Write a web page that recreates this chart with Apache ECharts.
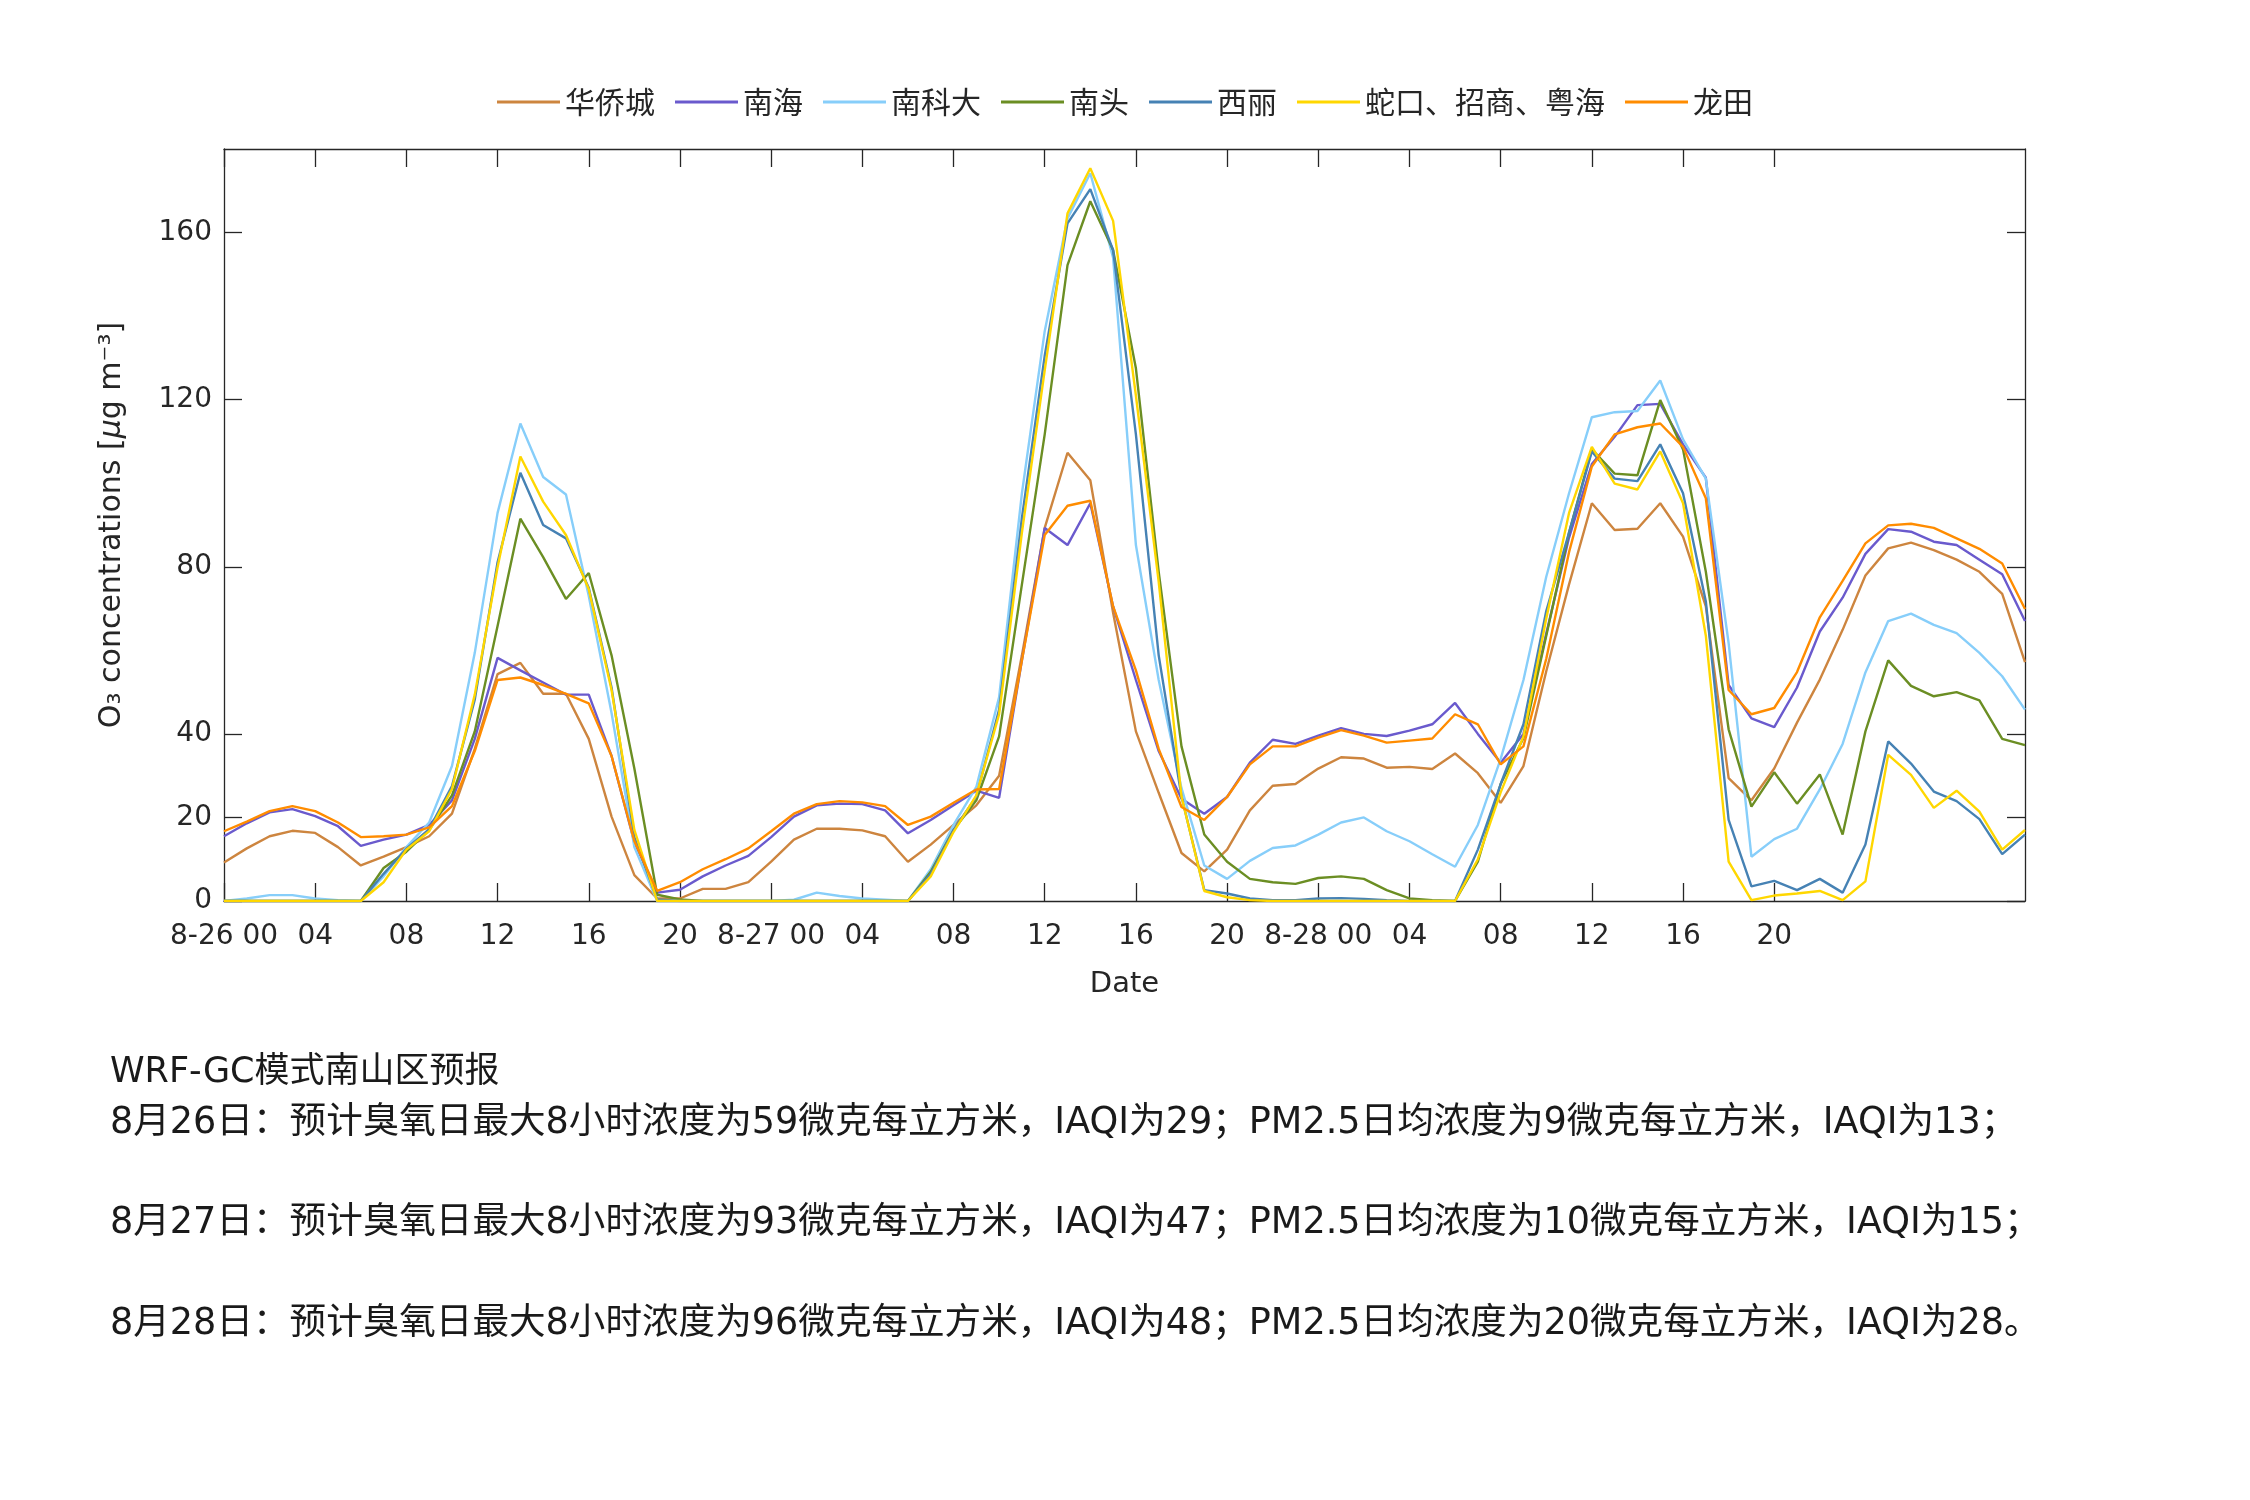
<!DOCTYPE html>
<html>
<head>
<meta charset="utf-8">
<script src="https://cdn.jsdelivr.net/npm/echarts@6/dist/echarts.min.js"></script>
<style>
html,body{margin:0;padding:0;background:#fff;}
#chart{width:2250px;height:1500px;}
</style>
</head>
<body>
<div id="chart"></div>
<script>
// ---- data (hourly O3, hour 0 = 8-26 00) ----
const seriesNames = ['华侨城','南海','南科大','南头','西丽','蛇口、招商、粤海','龙田'];
const seriesColors = ['#CD853F','#6A5ACD','#87CEFA','#6B8E23','#4682B4','#FFD700','#FF8C00'];

const huaqiaocheng = [9.2,12.6,15.5,16.8,16.3,12.9,8.5,10.6,12.9,15.5,20.9,36.4,54.3,57.0,49.6,49.6,38.8,20.2,6.2,0.6,
  0.6,2.9,2.9,4.5,9.4,14.7,17.3,17.3,16.9,15.5,9.4,13.5,18.2,22.9,30.0,58.8,89.3,107.3,100.7,69.0,
  40.6,25.9,11.5,7.1,12.3,21.7,27.6,28.0,31.7,34.4,34.1,31.9,32.1,31.6,35.3,30.6,23.5,32.3,55.0,75.8,
  95.2,88.8,89.1,95.2,87.2,70.5,29.4,24.1,31.7,42.7,53.0,64.9,77.9,84.4,85.8,84.0,81.7,78.8,73.5,57.2];
const nanhai = [15.5,18.6,21.2,22.0,20.3,17.9,13.2,14.7,15.9,18.2,24.1,38.8,58.2,55.2,52.3,49.4,49.4,34.7,14.1,2.0,
  2.7,5.9,8.5,10.8,15.3,20.2,22.9,23.3,23.2,21.7,16.2,19.4,22.9,26.4,24.7,57.6,89.3,85.2,95.2,70.5,
  52.9,35.9,24.5,20.9,24.9,33.1,38.6,37.6,39.6,41.4,40.0,39.5,40.8,42.3,47.4,40.0,33.1,40.0,64.0,87.0,
  104.6,111.1,118.7,119.0,109.3,101.3,51.7,43.7,41.6,51.1,64.5,72.6,83.1,89.0,88.4,86.0,85.2,81.7,78.2,67.0];
const nankeda = [0,0.6,1.4,1.4,0.6,0.2,0,5.9,12.9,18.8,32.3,59.4,92.9,114.3,101.5,97.3,73.0,45.0,12.9,0,
  0,0,0,0,0,0.3,2.0,1.2,0.6,0.3,0,7.6,18.2,27.3,48.8,97.6,136.4,163.4,174.2,154.0,
  85.2,52.9,27.0,8.5,5.3,9.6,12.7,13.3,15.9,18.8,20.0,16.7,14.3,11.2,8.2,18.2,34.0,52.9,77.6,97.6,
  115.8,117.0,117.3,124.6,110.5,101.1,61.7,10.6,14.8,17.3,26.7,37.6,54.7,67.0,68.8,66.1,64.1,59.4,53.8,45.8];
const nantou = [0,0,0,0,0,0,0,7.9,11.8,17.0,25.3,40.6,65.8,91.5,82.3,72.3,78.5,58.8,31.7,1.5,
  0.4,0,0,0,0,0,0,0,0,0,0,7.0,17.0,24.1,39.4,75.8,111.7,152.2,167.5,155.8,
  127.5,78.8,37.0,15.9,9.4,5.3,4.5,4.1,5.5,5.9,5.3,2.6,0.6,0.2,0,9.4,28.0,39.0,63.5,88.2,
  108.1,102.3,101.9,119.9,108.1,78.8,41.1,22.6,30.8,23.3,30.3,15.9,40.6,57.6,51.5,49.0,50.0,48.0,38.8,37.3];
const xili = [0,0,0,0,0,0,0,6.5,12.5,17.2,27.5,48.2,81.1,102.5,90.0,86.8,75.0,51.1,15.3,0.4,
  0,0,0,0,0,0,0,0,0,0,0,6.5,17.0,25.0,45.8,91.7,130.5,162.2,170.4,155.8,
  111.7,58.8,25.0,2.6,1.8,0.6,0.2,0.2,0.6,0.7,0.5,0.2,0,0,0,12.3,28.0,42.3,69.4,88.2,
  107.6,101.1,100.5,109.3,97.6,71.7,19.4,3.5,4.8,2.6,5.3,2.0,13.5,38.2,32.9,26.2,23.9,19.6,11.2,15.9];
const shekou = [0,0,0,0,0,0,0,4.5,12.3,16.7,26.8,49.4,79.9,106.4,95.6,87.6,74.6,50.5,17.0,0,
  0,0,0,0,0,0,0,0,0,0,0,5.9,16.5,25.3,44.7,88.2,127.0,164.6,175.4,162.8,
  121.0,76.4,25.0,2.4,0.9,0.2,0,0,0,0,0,0,0,0,0,10.0,26.0,39.4,67.6,92.9,
  108.7,99.9,98.5,107.6,95.2,63.5,9.4,0.2,1.3,1.8,2.4,0.2,4.7,35.0,30.2,22.3,26.4,21.4,12.3,17.0];
const longtian = [16.7,19.0,21.5,22.7,21.5,18.8,15.3,15.5,15.9,17.6,22.7,35.9,52.9,53.5,51.7,49.6,47.3,34.7,14.3,2.4,
  4.5,7.6,10.0,12.6,16.7,20.9,23.2,23.9,23.6,22.7,18.2,20.2,23.5,26.7,26.8,57.6,87.6,94.6,95.8,70.5,
  55.2,36.4,22.5,19.4,24.9,32.7,37.0,37.0,39.1,40.9,39.6,37.9,38.4,38.9,44.7,42.3,32.7,37.0,58.0,83.5,
  104.0,111.7,113.4,114.3,108.7,96.4,50.5,44.7,46.2,54.8,67.9,76.6,85.6,89.9,90.3,89.3,86.8,84.3,80.8,69.9];

const allSeries = [huaqiaocheng, nanhai, nankeda, nantou, xili, shekou, longtian];

const tickHours = [0,4,8,12,16,20,24,28,32,36,40,44,48,52,56,60,64,68];
const tickLabels = ['8-26 00','04','08','12','16','20','8-27 00','04','08','12','16','20','8-28 00','04','08','12','16','20'];
const yTicks = [0,20,40,80,120,160];

const textLines = [
  'WRF-GC模式南山区预报',
  '8月26日：预计臭氧日最大8小时浓度为59微克每立方米，IAQI为29；PM2.5日均浓度为9微克每立方米，IAQI为13；',
  '8月27日：预计臭氧日最大8小时浓度为93微克每立方米，IAQI为47；PM2.5日均浓度为10微克每立方米，IAQI为15；',
  '8月28日：预计臭氧日最大8小时浓度为96微克每立方米，IAQI为48；PM2.5日均浓度为20微克每立方米，IAQI为28。'
];

// ---- chart ----
const AX = '#262626';
const LATIN = "'DejaVu Sans','Noto Sans CJK SC',sans-serif";
const CJK = "'DejaVu Sans','Noto Sans CJK SC',sans-serif";

const chart = echarts.init(document.getElementById('chart'), null, {renderer:'canvas'});

function xAxisCfg(pos, showLabel){
  return {
    type:'value', min:0, max:79, position:pos,
    axisLine:{show:true, onZero:false, lineStyle:{color:AX, width:1.3}},
    axisTick:{show:true, inside:true, length:18, customValues:tickHours, lineStyle:{color:AX, width:1.3}},
    axisLabel:{show:showLabel, customValues:tickHours, margin:22, fontSize:28, color:AX, fontFamily:LATIN,
      formatter:function(v){ const i = tickHours.indexOf(Math.round(v)); return i>=0 ? tickLabels[i] : ''; }},
    splitLine:{show:false},
    name: showLabel ? 'Date' : '', nameLocation:'middle', nameGap:69,
    nameTextStyle:{fontSize:29, color:AX, fontFamily:LATIN}
  };
}
function yAxisCfg(pos, showLabel){
  return {
    type:'value', min:0, max:180, interval:20, position:pos,
    axisLine:{show:true, onZero:false, lineStyle:{color:AX, width:1.3}},
    axisTick:{show:true, inside:true, length:18, customValues:yTicks, lineStyle:{color:AX, width:1.3}},
    axisLabel:{show:showLabel, customValues:yTicks, margin:12, fontSize:28, color:AX, fontFamily:LATIN},
    splitLine:{show:false},
    name: showLabel ? '{n|O₃ concentrations [}{i|μ}{n|g m⁻³]}' : '',
    nameLocation:'middle', nameRotate:90, nameGap:97,
    nameTextStyle:{fontSize:30, color:AX, fontFamily:LATIN,
      rich:{n:{fontSize:30, color:AX, fontFamily:LATIN}, i:{fontSize:30, color:AX, fontFamily:LATIN, fontStyle:'italic'}}}
  };
}

const series = seriesNames.map(function(name, k){
  return {
    name:name, type:'line', xAxisIndex:0, yAxisIndex:0,
    data: allSeries[k].map(function(v, h){ return [h, v]; }),
    symbol:'none', showSymbol:false,
    lineStyle:{width:2.4, color:seriesColors[k]},
    itemStyle:{color:seriesColors[k]},
    z: 2 + k
  };
});

const graphics = textLines.map(function(t, i){
  const tops = [1055, 1105, 1205, 1306];
  return {type:'text', left:110, top:tops[i],
    style:{text:t, fontSize:i === 0 ? 35 : 36.6, fontFamily:CJK, fill:'#1a1a1a'}};
});

chart.setOption({
  animation:false,
  backgroundColor:'#ffffff',
  grid:{left:224, right:225, top:149, bottom:599, containLabel:false},
  legend:{
    data:seriesNames, top:82, left:'center',
    icon:'rect', itemWidth:63, itemHeight:3, itemGap:20,
    textStyle:{fontSize:30, color:AX, fontFamily:"'Noto Sans CJK SC',sans-serif"}
  },
  xAxis:[xAxisCfg('bottom', true), xAxisCfg('top', false)],
  yAxis:[yAxisCfg('left', true), yAxisCfg('right', false)],
  series:series,
  graphic:graphics
});
</script>
</body>
</html>
